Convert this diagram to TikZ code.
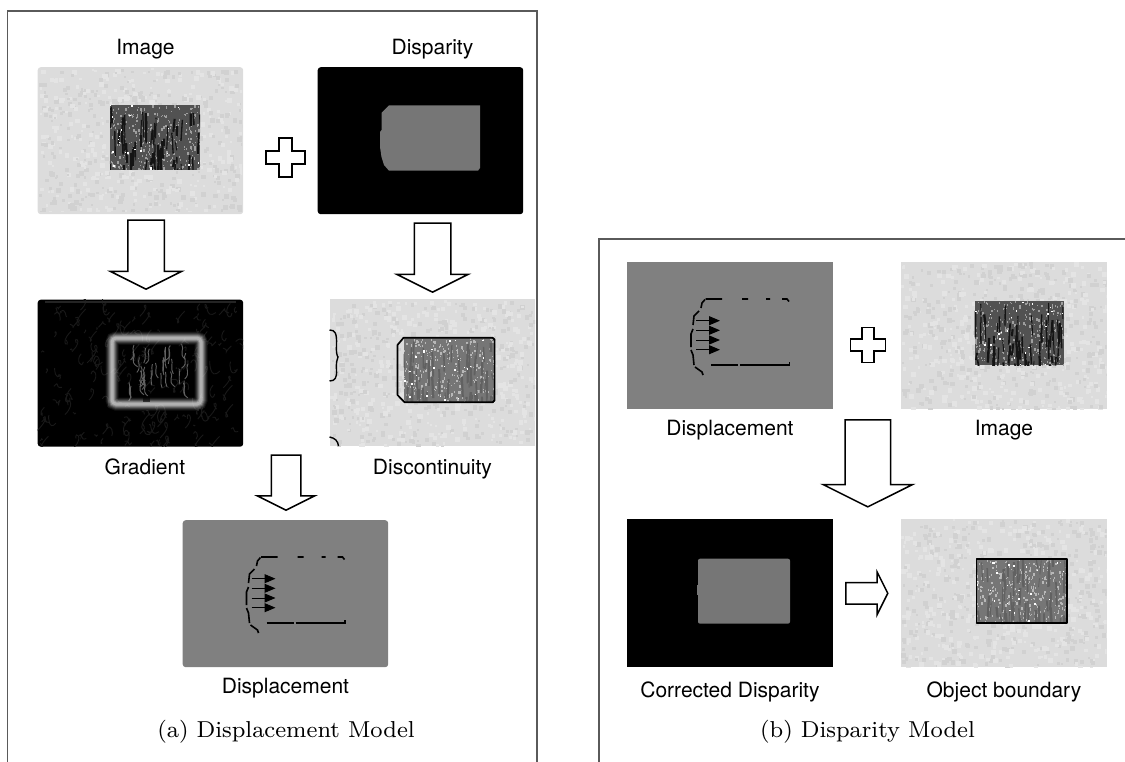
\documentclass[tikz,border=0pt]{standalone}
\usepackage{fontspec}
\usetikzlibrary{arrows.meta,positioning,shapes.arrows}
\newfontfamily\labelfont{TeX Gyre Heros}
\definecolor{framegrey}{HTML}{5A5A5A}
\definecolor{paper}{HTML}{DCDCDC}
\definecolor{midgrey}{HTML}{808080}
\definecolor{objgrey}{HTML}{767676}
\tikzset{
	panel/.style={anchor=north west,inner sep=0pt,minimum width=205.5pt,minimum height=147pt},
	lbl/.style={font=\labelfont\fontsize{21}{22}\selectfont,text height=15pt,text depth=4.5pt,inner sep=0pt},
	capt/.style={font=\footnotesize,scale=2.88,inner sep=0pt},
	frameline/.style={draw=framegrey,line width=1.2pt},
	outlined/.style={draw=black,line width=1.5pt,fill=white,line join=miter},
	blockarrow/.style={outlined,shape=single arrow,shape border rotate=0,anchor=tip,inner xsep=0pt,single arrow tip angle=127},
	markline/.style={line width=1.6pt,black},
}
% mottled paper
\newcommand{\speckle}[4]{
	\begin{scope}
		\clip (#1,#2) rectangle ++(#3,#4);
		\foreach \k in {1,...,340}{
			\pgfmathsetmacro{\px}{#1+rnd*#3}
			\pgfmathsetmacro{\py}{#2+rnd*#4}
			\pgfmathsetmacro{\pr}{2+rnd*3}
			\fill[black!5!paper] (\px,\py) rectangle ++(\pr,\pr);
			\pgfmathsetmacro{\px}{#1+rnd*#3}
			\pgfmathsetmacro{\py}{#2+rnd*#4}
			\fill[white!24!paper] (\px,\py) rectangle ++(\pr,\pr);
		}
	\end{scope}
}
% bark: x y w h base stripe fleck
\newcommand{\bark}[7]{
	\fill[#5] (#1,#2) rectangle ++(#3,#4);
	\begin{scope}
		\clip (#1,#2) rectangle ++(#3,#4);
		\foreach \k in {1,...,300}{
			\pgfmathsetmacro{\px}{#1+rnd*#3}
			\pgfmathsetmacro{\py}{#2+rnd*#4}
			\pgfmathsetmacro{\pr}{.6+rnd*1.2}
			\fill[#7] (\px,\py) rectangle ++(\pr,1.6*\pr);
		}
		\foreach \k in {1,...,60}{
			\pgfmathsetmacro{\px}{#1+rnd*#3}
			\pgfmathsetmacro{\py}{#2+rnd*#4}
			\pgfmathsetmacro{\pw}{.8+rnd*1.6}
			\pgfmathsetmacro{\pd}{(rnd-.5)*3}
			\draw[#6,line width=\pw pt] (\px,\py) -- ++(\pd,6+rnd*22);
		}
		\foreach \k in {1,...,24}{
			\pgfmathsetmacro{\px}{#1+rnd*#3}
			\pgfmathsetmacro{\py}{#2+rnd*#4}
			\pgfmathsetmacro{\pr}{.8+rnd*1.3}
			\fill[white] (\px,\py) rectangle ++(\pr,\pr);
		}
	\end{scope}
}
% broken edge with the shift arrows
\newcommand{\shiftmarks}[2]{
	\begin{scope}[shift={(#1,#2)}]
		\draw[markline] (78.5,37) -- (95,37) (115,37) -- (121,37) (139,37) -- (143,37) (155,37) -- (160,37) -- (162,39.5);
		\draw[markline] (78,37.5) -- (75,41) -- (74,46) (72,49) -- (67,54) -- (66,63) (66,67) -- (64,72) -- (64,85)
			(64,88) -- (66,93) -- (67,103) (68,105) -- (75,110) -- (76,113);
		\draw[markline] (84,103) -- (111,103) (113,103) -- (162.5,103) -- (162.5,100);
		\foreach \yy in {58.7,68.3,78,87.7}
			\draw[black,line width=1pt,-{Triangle[length=11pt,width=9pt]}] (69,\yy) -- (93,\yy);
	\end{scope}
}
\newcommand{\plusmark}[4]{
	\draw[outlined] (#1-#3,#2-#4) -- (#1-#4,#2-#4) -- (#1-#4,#2-#3) -- (#1+#4,#2-#3) -- (#1+#4,#2-#4) -- (#1+#3,#2-#4)
		-- (#1+#3,#2+#4) -- (#1+#4,#2+#4) -- (#1+#4,#2+#3) -- (#1-#4,#2+#3) -- (#1-#4,#2+#4) -- (#1-#3,#2+#4) -- cycle;
}
\begin{document}
\begin{tikzpicture}[x=1pt,y=-1pt]
	\useasboundingbox (0,0) rectangle (1125,762);
	\pgfmathsetseed{11}
	\draw[frameline] (7.5,762) |- (537,11) -- (537,762);
	\draw[frameline] (599,762) |- (1125,239);

	\node[panel,fill=paper,rounded corners=3pt] (imgA) at (37.5,67) {};
	\node[panel,fill=black,rounded corners=3pt] (dispA) at (317.5,67) {};
	\node[panel,fill=black,rounded corners=3pt] (gradA) at (37.5,299.5) {};
	\node[panel,fill=paper] (discA) at (329.5,299) {};
	\node[panel,fill=midgrey,rounded corners=3pt] (moveA) at (182.5,520) {};
	\node[panel,fill=midgrey] (moveB) at (627,262) {};
	\node[panel,fill=paper] (imgB) at (901,262) {};
	\node[panel,fill=black,minimum height=148pt] (dispB) at (627,519) {};
	\node[panel,fill=paper,minimum height=148pt] (objB) at (901,519) {};

	\speckle{39}{68}{203}{144}
	\bark{110}{105}{90}{65}{black!68}{black!92}{black!38}
	\fill[objgrey] (389,105.3) -- (480,105.3) -- (480,168) -- (478,170.7) -- (389,170.7) -- (384,165) -- (381.5,157) -- (380,147)
		-- (380,132) -- (381.5,130) -- (381.5,113) -- cycle;

	% gradient picture
	\begin{scope}
		\clip (37.5,299.5) rectangle ++(205.5,147);
		\foreach \k in {1,...,170}{
			\pgfmathsetmacro{\px}{40+rnd*200}
			\pgfmathsetmacro{\py}{302+rnd*142}
			\pgfmathsetmacro{\pa}{(rnd-.5)*22}
			\pgfmathsetmacro{\pb}{(rnd-.5)*22}
			\draw[white!10!black,line width=.9pt] (\px,\py) .. controls (\px+\pa,\py-\pb) and (\px+\pb,\py+\pa) .. (\px+\pa,\py+\pb);
		}
		\draw[white!14!black,line width=1.5pt] (45,302) -- (236,302);
		\foreach \k in {1,...,34}{
			\pgfmathsetmacro{\px}{117+rnd*72}
			\pgfmathsetmacro{\py}{344+rnd*44}
			\pgfmathsetmacro{\pa}{(rnd-.5)*10}
			\draw[white!38!black,line width=.9pt] (\px,\py) .. controls (\px+\pa,\py+5) and (\px-\pa,\py+9) .. (\px+\pa,\py+15);
		}
		\foreach \ww/\oo in {13/.07,11/.1,9/.14,7/.2,5/.25,3/.3}
			\draw[white,opacity=\oo,line width=\ww pt,rounded corners=4pt] (112,338) rectangle (201,404);
		\fill[black,opacity=.6] (143,396) rectangle (150,402);
	\end{scope}

	\speckle{329.5}{300}{205.5}{146}
	\bark{403.5}{338}{91}{64}{objgrey}{black!62}{white!72!black}
	\draw[black,line width=1.7pt,line join=round] (403.6,337.7) -- (492.6,337.7) -- (494.6,339.7) -- (494.6,400.3) -- (492.6,402.3)
		-- (404.6,402.3) -- (397.5,395) -- (397.5,345) -- cycle;
	\draw[black,line width=1.4pt] (329.5,330) .. controls (335,330) and (337,333) .. (336.5,345) .. controls (336,352) and (337,356) .. (338,357)
		.. controls (337,360) and (336,362) .. (336.5,370) .. controls (337,378) and (335,381) .. (329.5,381);
	\draw[black,line width=1.4pt] (329.5,437) .. controls (335,438) and (338,441) .. (338.5,446);

	\shiftmarks{182.5}{520}
	\shiftmarks{627}{262}

	\speckle{901}{262}{205.5}{147}
	\bark{974.6}{301}{89.4}{64}{black!68}{black!92}{black!38}
	\fill[objgrey,rounded corners=2pt] (698,558.7) rectangle (790,623.7);
	\fill[objgrey] (696.5,585) rectangle (700,595);
	\speckle{901}{519}{205.5}{148}
	\bark{976.4}{558.7}{90.6}{64.3}{objgrey}{black!62}{white!72!black}
	\draw[black,line width=1.7pt,line join=round] (976.4,558.7) rectangle (1067,623);

	\plusmark{285.5}{157.5}{19.5}{6.5}
	\plusmark{868}{345}{17.5}{5.8}

	\node[blockarrow,rotate=-90,inner ysep=17.5pt,minimum height=69pt,single arrow head extend=17.5pt] (arrowImg) at (146,290) {};
	\node[blockarrow,rotate=-90,inner ysep=17.5pt,minimum height=69pt,single arrow head extend=17.5pt] (arrowDisp) at (432.5,293) {};
	\node[blockarrow,rotate=-90,inner ysep=14pt,minimum height=55pt,single arrow head extend=14pt] (arrowGrad) at (286,511) {};
	\node[blockarrow,rotate=-90,inner ysep=22pt,minimum height=87pt,single arrow head extend=22pt] (arrowMove) at (867.8,507.7) {};
	\node[blockarrow,inner ysep=10pt,minimum height=42pt,single arrow head extend=10.6pt] (arrowObj) at (888.6,593.3) {};

	\node[lbl,above=8pt of imgA,xshift=5pt] {Image};
	\node[lbl,above=8pt of dispA,xshift=12pt] {Disparity};
	\node[lbl,below=12.5pt of gradA,xshift=4.5pt] {Gradient};
	\node[lbl,below=12.5pt of discA] {Discontinuity};
	\node[lbl,below=11pt of moveA] {Displacement};
	\node[lbl,below=11pt of moveB] {Displacement};
	\node[lbl,below=11pt of imgB] {Image};
	\node[lbl,below=14.5pt of dispB] {Corrected Disparity};
	\node[lbl,below=14.5pt of objB] {Object boundary};

	\node[capt] (captA) at (286,732) {(a) Displacement Model};
	\node[capt] (captB) at (867.5,732) {(b) Disparity Model};
\end{tikzpicture}
\end{document}
